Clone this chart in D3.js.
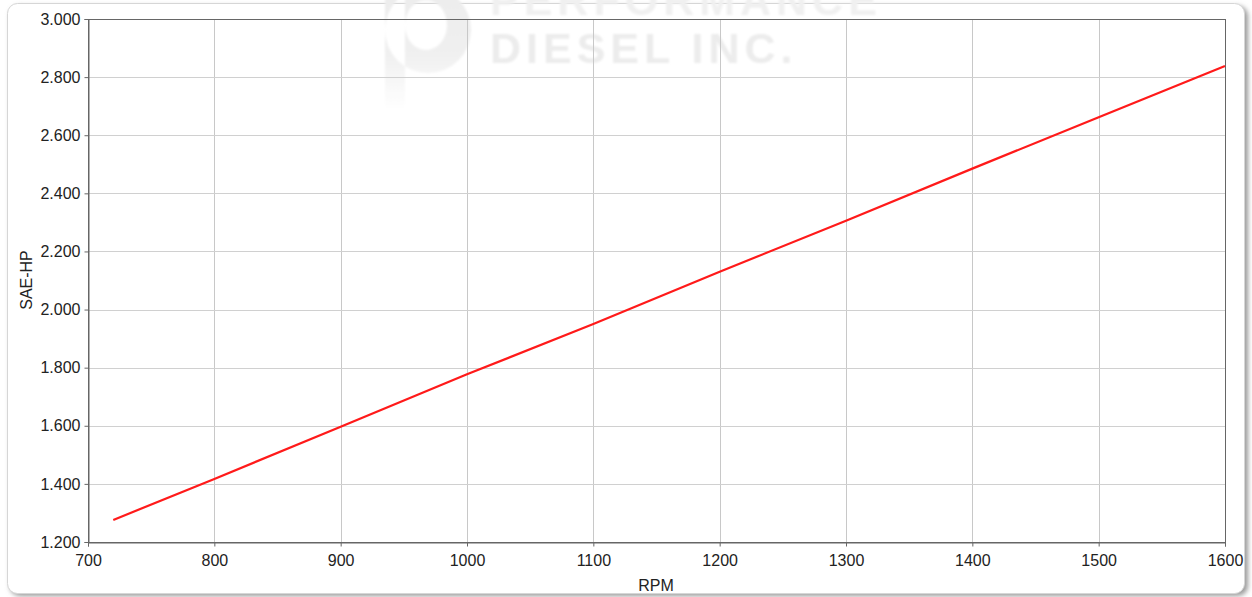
<!DOCTYPE html>
<html>
<head>
<meta charset="utf-8">
<script src="https://cdn.jsdelivr.net/npm/d3@7"></script>
<style>
  body { margin: 0; background: #fff; }
  svg text { font-family: "Liberation Sans", Arial, sans-serif; }
</style>
</head>
<body>
<div id="chart"></div>
<script>
// values
const rpm = [720, 800, 900, 1000, 1100, 1200, 1300, 1400, 1500, 1600];
const saeHp = [1.276, 1.417, 1.597, 1.777, 1.950, 2.130, 2.306, 2.485, 2.662, 2.838];
const xTicks = [700, 800, 900, 1000, 1100, 1200, 1300, 1400, 1500, 1600];
const yTicks = [1.2, 1.4, 1.6, 1.8, 2.0, 2.2, 2.4, 2.6, 2.8, 3.0];

const W = 1252, H = 597;
const margin = { top: 19, right: 27, bottom: 55, left: 88 };
const width = W - margin.left - margin.right;
const height = H - margin.top - margin.bottom;

const svg = d3.select("#chart").append("svg")
    .attr("width", W)
    .attr("height", H);

const defs = svg.append("defs");
defs.append("filter").attr("id", "shadow")
    .attr("x", "-5%").attr("y", "-5%").attr("width", "110%").attr("height", "110%")
    .append("feGaussianBlur").attr("stdDeviation", 2.5);
defs.append("filter").attr("id", "soft")
    .append("feGaussianBlur").attr("stdDeviation", 0.8);

// fade for the watermark
const fade = defs.append("linearGradient").attr("id", "fade")
    .attr("x1", 0).attr("y1", 0).attr("x2", 0).attr("y2", 1);
fade.append("stop").attr("offset", "0%").attr("stop-color", "#ececec");
fade.append("stop").attr("offset", "55%").attr("stop-color", "#f0f0f0");
fade.append("stop").attr("offset", "100%").attr("stop-color", "#fff");

// card with shadow
svg.append("rect")
    .attr("x", 10).attr("y", 6).attr("width", 1238).attr("height", 590)
    .attr("rx", 10).attr("fill", "#9a9a9a").attr("filter", "url(#shadow)");
svg.append("rect")
    .attr("x", 7.5).attr("y", 3.5).attr("width", 1237).attr("height", 590)
    .attr("rx", 10).attr("fill", "#fff").attr("stroke", "#d6d6d6");

// watermark logo
const wm = svg.append("g").attr("filter", "url(#soft)");
wm.append("path")
    .attr("fill-rule", "evenodd")
    .attr("fill", "url(#fade)")
    .attr("d", "M385,-10 L405,-10 L405,110 L385,110 Z " +
        "M385,30 A43,43 0 1,1 471,30 A43,43 0 1,1 385,30 Z " +
        "M405,25 A21,25 0 1,0 447,25 A21,25 0 1,0 405,25 Z");
wm.append("text")
    .attr("x", 490).attr("y", 15)
    .attr("font-size", 43).attr("font-weight", "bold")
    .attr("letter-spacing", 5)
    .attr("fill", "#f0f0f0")
    .text("PERFORMANCE");
wm.append("text")
    .attr("x", 490).attr("y", 63)
    .attr("font-size", 43).attr("font-weight", "bold")
    .attr("letter-spacing", 5)
    .attr("fill", "#ececec")
    .text("DIESEL INC.");

const g = svg.append("g")
    .attr("transform", `translate(${margin.left},${margin.top})`);

const x = d3.scaleLinear().domain([700, 1600]).range([0, width]);
const y = d3.scaleLinear().domain([1.2, 3.0]).range([height, 0]);

// grid
g.append("g").selectAll("line").data(xTicks.slice(1, -1)).join("line")
    .attr("x1", d => Math.round(x(d)) + 0.5).attr("x2", d => Math.round(x(d)) + 0.5)
    .attr("y1", 0).attr("y2", height)
    .attr("stroke", "#c8c8c8");
g.append("g").selectAll("line").data(yTicks.slice(1, -1)).join("line")
    .attr("y1", d => Math.round(y(d)) + 0.5).attr("y2", d => Math.round(y(d)) + 0.5)
    .attr("x1", 0).attr("x2", width)
    .attr("stroke", "#d0d0d0");

// frame
g.append("rect")
    .attr("x", 0.5).attr("y", 0.5).attr("width", width).attr("height", height)
    .attr("fill", "none").attr("stroke", "#666");

// axes
const xAxis = g.append("g")
    .attr("transform", `translate(0,${height + 0.5})`)
    .call(d3.axisBottom(x).tickValues(xTicks).tickSize(4).tickPadding(8).tickFormat(d3.format("d")));
const yAxis = g.append("g")
    .attr("transform", "translate(0.5,0)")
    .call(d3.axisLeft(y).tickValues(yTicks).tickSize(4).tickPadding(4).tickFormat(d3.format(".3f")));

[xAxis, yAxis].forEach(a => {
    a.select(".domain").attr("stroke", "#666");
    a.selectAll(".tick line").attr("stroke", "#666");
    a.selectAll("text")
        .attr("font-family", "Liberation Sans, Arial, sans-serif")
        .attr("font-size", 16)
        .attr("fill", "#222");
});

// line
const line = d3.line()
    .x((d, i) => x(rpm[i]))
    .y(d => y(d));

g.append("path")
    .datum(saeHp)
    .attr("fill", "none")
    .attr("stroke", "#ff1a1a")
    .attr("stroke-width", 2.2)
    .attr("d", line);

// axis titles
svg.append("text")
    .attr("x", 656).attr("y", 591)
    .attr("text-anchor", "middle")
    .attr("font-size", 16).attr("fill", "#222")
    .text("RPM");
svg.append("text")
    .attr("transform", "translate(32,280) rotate(-90)")
    .attr("text-anchor", "middle")
    .attr("font-size", 16).attr("fill", "#222")
    .text("SAE-HP");
</script>
</body>
</html>
